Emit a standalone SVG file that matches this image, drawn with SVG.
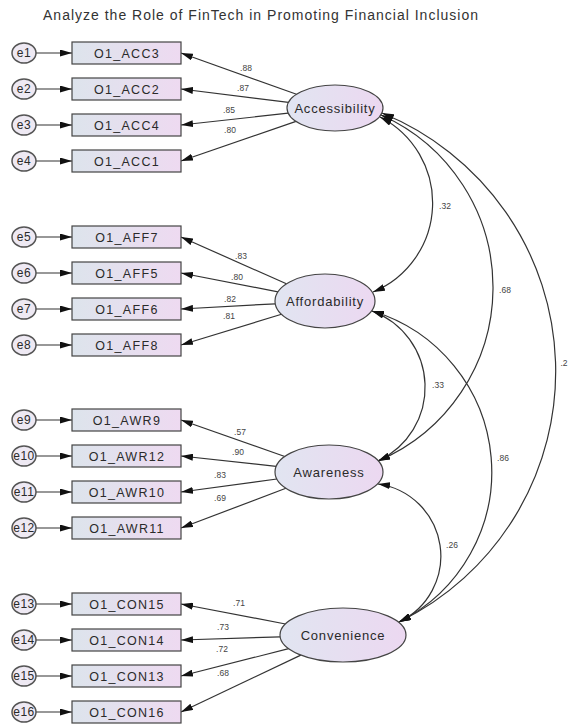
<svg xmlns="http://www.w3.org/2000/svg" width="569" height="725" viewBox="0 0 569 725">
<defs>
<linearGradient id="gr" x1="0" x2="1" y1="0" y2="0"><stop offset="0" stop-color="#dde4ec"/><stop offset="1" stop-color="#eedaf1"/></linearGradient>
<linearGradient id="ge" x1="0" x2="1" y1="0" y2="0"><stop offset="0" stop-color="#e1e5f1"/><stop offset="1" stop-color="#ecd8f1"/></linearGradient>
<marker id="ah" viewBox="0 0 12 7" refX="12" refY="3.5" markerWidth="12" markerHeight="7" markerUnits="userSpaceOnUse" orient="auto-start-reverse"><path d="M0,0 L12,3.5 L0,7 z" fill="#111"/></marker>
<style>
.t{font-family:"Liberation Sans",Arial,sans-serif;fill:#2a2a2a}
.title{font-size:14px;fill:#333}
.obs rect{fill:url(#gr);stroke:#444;stroke-width:1.2}
.obs text{font-size:12.5px;letter-spacing:1.3px;text-anchor:middle}
.err ellipse{fill:#eee9f3;stroke:#555;stroke-width:1.5}
.err text{font-size:12px;letter-spacing:0.5px;text-anchor:middle}
.lat ellipse{fill:url(#ge);stroke:#444;stroke-width:1.2}
.lat text{font-size:13px;letter-spacing:0.8px;text-anchor:middle}
.c path,.c line{fill:none;stroke:#333;stroke-width:1.2}
.c .a{marker-end:url(#ah)}
.c .b{marker-start:url(#ah);marker-end:url(#ah)}
.lb{font-size:8.5px;fill:#444}
</style>
</defs>
<rect width="569" height="725" fill="#fff"/>
<text class="t title" x="260.5" y="20" text-anchor="middle" textLength="435" lengthAdjust="spacing">Analyze the Role of FinTech in Promoting Financial Inclusion</text>

<g id="connectors" class="c">
<line class="a" x1="36" y1="53" x2="72" y2="53"/>
<line class="a" x1="36" y1="89" x2="72" y2="89"/>
<line class="a" x1="36" y1="125" x2="72" y2="125"/>
<line class="a" x1="36" y1="161" x2="72" y2="161"/>
<line class="a" x1="36" y1="237" x2="72" y2="237"/>
<line class="a" x1="36" y1="273" x2="72" y2="273"/>
<line class="a" x1="36" y1="309" x2="72" y2="309"/>
<line class="a" x1="36" y1="345" x2="72" y2="345"/>
<line class="a" x1="36" y1="420" x2="72" y2="420"/>
<line class="a" x1="36" y1="456" x2="72" y2="456"/>
<line class="a" x1="36" y1="492" x2="72" y2="492"/>
<line class="a" x1="36" y1="528" x2="72" y2="528"/>
<line class="a" x1="36" y1="604" x2="72" y2="604"/>
<line class="a" x1="36" y1="640" x2="72" y2="640"/>
<line class="a" x1="36" y1="676" x2="72" y2="676"/>
<line class="a" x1="36" y1="712" x2="72" y2="712"/>
<line class="a" x1="296.5" y1="94.3" x2="181" y2="53"/>
<line class="a" x1="288.5" y1="102.3" x2="181" y2="89"/>
<line class="a" x1="288.2" y1="113.2" x2="181" y2="125"/>
<line class="a" x1="296" y1="121.4" x2="181" y2="161"/>
<line class="a" x1="286.4" y1="283.8" x2="181" y2="237"/>
<line class="a" x1="278" y1="291.9" x2="181" y2="273"/>
<line class="a" x1="275.3" y1="303.8" x2="181" y2="309"/>
<line class="a" x1="281.5" y1="314.3" x2="181" y2="345"/>
<line class="a" x1="284.8" y1="456.5" x2="181" y2="420"/>
<line class="a" x1="276.2" y1="466.3" x2="181" y2="456"/>
<line class="a" x1="276.9" y1="479" x2="181" y2="492"/>
<line class="a" x1="285.9" y1="488.3" x2="181" y2="528"/>
<line class="a" x1="285.5" y1="624" x2="181" y2="604"/>
<line class="a" x1="280.2" y1="636.9" x2="181" y2="640"/>
<line class="a" x1="288.7" y1="648.7" x2="181" y2="676"/>
<line class="a" x1="300.8" y1="655.1" x2="181" y2="712"/>
<path class="b" d="M380,117 A96.4,96.4 0 0 1 373,292"/>
<path class="b" d="M381,115 A188.6,188.6 0 0 1 378,461"/>
<path class="b" d="M382,113 A278.9,278.9 0 0 1 399,622"/>
<path class="b" d="M372,311 A81.3,81.3 0 0 1 378,461"/>
<path class="b" d="M372,311 A167.9,167.9 0 0 1 399,622"/>
<path class="b" d="M378,484 A72.8,72.8 0 0 1 399,622"/>
<g class="t lb" text-anchor="middle">
<text x="246" y="71">.88</text>
<text x="243" y="91">.87</text>
<text x="229" y="113">.85</text>
<text x="230" y="133">.80</text>
<text x="241" y="259">.83</text>
<text x="237" y="280">.80</text>
<text x="230" y="302">.82</text>
<text x="229" y="319">.81</text>
<text x="240" y="435">.57</text>
<text x="238" y="455">.90</text>
<text x="220" y="478">.83</text>
<text x="220" y="501">.69</text>
<text x="239" y="606">.71</text>
<text x="223" y="630">.73</text>
<text x="222" y="652">.72</text>
<text x="223" y="676">.68</text>
<text x="445" y="209">.32</text>
<text x="438" y="388">.33</text>
<text x="452" y="548">.26</text>
<text x="505" y="293">.68</text>
<text x="503" y="461">.86</text>
<text x="564" y="366">.2</text>
</g>
</g>

<g id="e1" class="err"><ellipse cx="24" cy="53" rx="12" ry="10"/><text class="t" x="24" y="57">e1</text></g>
<g id="e2" class="err"><ellipse cx="24" cy="89" rx="12" ry="10"/><text class="t" x="24" y="93">e2</text></g>
<g id="e3" class="err"><ellipse cx="24" cy="125" rx="12" ry="10"/><text class="t" x="24" y="129">e3</text></g>
<g id="e4" class="err"><ellipse cx="24" cy="161" rx="12" ry="10"/><text class="t" x="24" y="165">e4</text></g>
<g id="e5" class="err"><ellipse cx="24" cy="237" rx="12" ry="10"/><text class="t" x="24" y="241">e5</text></g>
<g id="e6" class="err"><ellipse cx="24" cy="273" rx="12" ry="10"/><text class="t" x="24" y="277">e6</text></g>
<g id="e7" class="err"><ellipse cx="24" cy="309" rx="12" ry="10"/><text class="t" x="24" y="313">e7</text></g>
<g id="e8" class="err"><ellipse cx="24" cy="345" rx="12" ry="10"/><text class="t" x="24" y="349">e8</text></g>
<g id="e9" class="err"><ellipse cx="24" cy="420" rx="12" ry="10"/><text class="t" x="24" y="424">e9</text></g>
<g id="e10" class="err"><ellipse cx="24" cy="456" rx="12" ry="10"/><text class="t" x="24" y="460">e10</text></g>
<g id="e11" class="err"><ellipse cx="24" cy="492" rx="12" ry="10"/><text class="t" x="24" y="496">e11</text></g>
<g id="e12" class="err"><ellipse cx="24" cy="528" rx="12" ry="10"/><text class="t" x="24" y="532">e12</text></g>
<g id="e13" class="err"><ellipse cx="24" cy="604" rx="12" ry="10"/><text class="t" x="24" y="608">e13</text></g>
<g id="e14" class="err"><ellipse cx="24" cy="640" rx="12" ry="10"/><text class="t" x="24" y="644">e14</text></g>
<g id="e15" class="err"><ellipse cx="24" cy="676" rx="12" ry="10"/><text class="t" x="24" y="680">e15</text></g>
<g id="e16" class="err"><ellipse cx="24" cy="712" rx="12" ry="10"/><text class="t" x="24" y="716">e16</text></g>

<g id="O1_ACC3" class="obs"><rect x="72" y="42" width="109" height="22"/><text class="t" x="127" y="57.5">O1_ACC3</text></g>
<g id="O1_ACC2" class="obs"><rect x="72" y="78" width="109" height="22"/><text class="t" x="127" y="93.5">O1_ACC2</text></g>
<g id="O1_ACC4" class="obs"><rect x="72" y="114" width="109" height="22"/><text class="t" x="127" y="129.5">O1_ACC4</text></g>
<g id="O1_ACC1" class="obs"><rect x="72" y="150" width="109" height="22"/><text class="t" x="127" y="165.5">O1_ACC1</text></g>
<g id="O1_AFF7" class="obs"><rect x="72" y="226" width="109" height="22"/><text class="t" x="127" y="241.5">O1_AFF7</text></g>
<g id="O1_AFF5" class="obs"><rect x="72" y="262" width="109" height="22"/><text class="t" x="127" y="277.5">O1_AFF5</text></g>
<g id="O1_AFF6" class="obs"><rect x="72" y="298" width="109" height="22"/><text class="t" x="127" y="313.5">O1_AFF6</text></g>
<g id="O1_AFF8" class="obs"><rect x="72" y="334" width="109" height="22"/><text class="t" x="127" y="349.5">O1_AFF8</text></g>
<g id="O1_AWR9" class="obs"><rect x="72" y="409" width="109" height="22"/><text class="t" x="127" y="424.5">O1_AWR9</text></g>
<g id="O1_AWR12" class="obs"><rect x="72" y="445" width="109" height="22"/><text class="t" x="127" y="460.5">O1_AWR12</text></g>
<g id="O1_AWR10" class="obs"><rect x="72" y="481" width="109" height="22"/><text class="t" x="127" y="496.5">O1_AWR10</text></g>
<g id="O1_AWR11" class="obs"><rect x="72" y="517" width="109" height="22"/><text class="t" x="127" y="532.5">O1_AWR11</text></g>
<g id="O1_CON15" class="obs"><rect x="72" y="593" width="109" height="22"/><text class="t" x="127" y="608.5">O1_CON15</text></g>
<g id="O1_CON14" class="obs"><rect x="72" y="629" width="109" height="22"/><text class="t" x="127" y="644.5">O1_CON14</text></g>
<g id="O1_CON13" class="obs"><rect x="72" y="665" width="109" height="22"/><text class="t" x="127" y="680.5">O1_CON13</text></g>
<g id="O1_CON16" class="obs"><rect x="72" y="701" width="109" height="22"/><text class="t" x="127" y="716.5">O1_CON16</text></g>

<g id="Accessibility" class="lat"><ellipse cx="335" cy="108" rx="48" ry="23"/><text class="t" x="335" y="112.5">Accessibility</text></g>
<g id="Affordability" class="lat"><ellipse cx="325" cy="301" rx="50" ry="27"/><text class="t" x="325" y="305.5">Affordability</text></g>
<g id="Awareness" class="lat"><ellipse cx="329" cy="472" rx="54" ry="27"/><text class="t" x="329" y="476.5">Awareness</text></g>
<g id="Convenience" class="lat"><ellipse cx="343" cy="635" rx="63" ry="27"/><text class="t" x="343" y="639.5">Convenience</text></g>
</svg>
